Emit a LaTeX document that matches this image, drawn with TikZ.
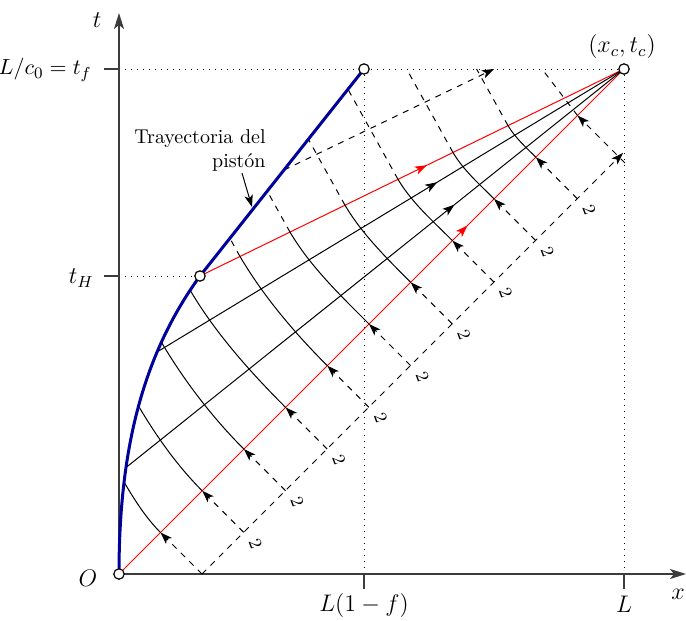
\documentclass[tikz,border=0pt]{standalone}
\usetikzlibrary{arrows.meta,calc,decorations.markings}
\definecolor{pistoncol}{RGB}{0,0,155}
\definecolor{axisgray}{RGB}{60,60,60}
\begin{document}
\begin{tikzpicture}[x=0.5pt,y=-0.5pt,
  >={Stealth[length=6pt,width=4.2pt,inset=1.5pt]},
  thinl/.style={line width=0.5pt},
  axisline/.style={line width=0.8pt,draw=axisgray,-{Stealth[length=8pt,width=5pt,inset=2pt]}},
  tickline/.style={line width=0.8pt,draw=axisgray},
  opendot/.style={circle,draw,fill=white,inner sep=0pt,minimum size=5.2pt,line width=0.6pt},
  dotline/.style={line width=0.5pt,dash pattern=on 0.5pt off 2.5pt},
  dsh/.style={line width=0.5pt,dash pattern=on 3pt off 3pt},
  midarrow/.style={postaction={decorate},decoration={markings,mark=at position #1 with {\arrow{>}}}},
  lbl/.style={inner sep=1pt,font=\fontsize{11.5}{14}\selectfont}
]
\useasboundingbox (0,0) rectangle (686,621);

% key points
\coordinate (O) at (119,574);
\coordinate (H) at (200,276);
\coordinate (F) at (364,69);
\coordinate (C) at (624,69);
\coordinate (Xend) at (686,574);
\coordinate (Tend) at (119,13);
\coordinate (TF) at (119,69);
\coordinate (TH) at (119,276);
\coordinate (TFt) at (104,69);
\coordinate (THt) at (104,276);
\coordinate (XL) at (624,574);
\coordinate (XLt) at (624,589);
\coordinate (Xf) at (364,574);
\coordinate (Xft) at (364,589);

% dotted guides
\draw[dotline] (TF) -- (C);
\draw[dotline] (TH) -- (H);
\draw[dotline] (F) -- (Xf);
\draw[dotline] (C) -- (XL);

% axes
\draw[axisline] (O) -- (Xend);
\draw[axisline] (O) -- (Tend);
\draw[tickline] (TFt) -- (TF);
\draw[tickline] (THt) -- (TH);
\draw[tickline] (Xf) -- (Xft);
\draw[tickline] (XL) -- (XLt);

% fan
\coordinate (B1) at (157,352);
\coordinate (B2) at (125.4,468);
\draw[red,thinl,midarrow=0.69] (O) -- (C);
\draw[red,thinl,midarrow=0.535] (H) -- (C);
\draw[thinl,midarrow=0.6] (B1) -- (C);
\draw[thinl,midarrow=0.66] (B2) -- (C);

% C- characteristics
\foreach \k/\ex/\ey in {0/124/482,1/138.5/406,2/161.3/342,3/190/290,4/240/256.5,5/290/232.1,6/345/205.2,7/398/179.3,8/453/152.5,9/508/125.6}{
  \pgfmathsetmacro\px{202+41.7*\k}
  \pgfmathsetmacro\py{574-41.7*\k}
  \pgfmathsetmacro\rx{\px-41.5}
  \pgfmathsetmacro\ry{\py-41.5}
  \pgfmathsetmacro\cl{veclen(\ex-\rx,\ey-\ry)}
  \pgfmathsetmacro\ca{0.233*\cl}
  \pgfmathsetmacro\cb{0.167*\cl}
  \pgfmathsetmacro\cc{1.7*\cb}
  \coordinate (P\k) at (\px,\py);
  \coordinate (R\k) at (\rx,\ry);
  \coordinate (E\k) at (\ex,\ey);
  \draw[dsh,->] (P\k) -- (R\k);
  \draw[thinl] (R\k) .. controls ($(R\k)+(-\ca,-\ca)$) and ($(E\k)+(\cb,\cc)$) .. (E\k);
}
\foreach \k/\qx/\qy in {4/229.9/238.3,5/267.2/191.1,6/308.4/139.3,7/348/89.3,8/406.6/69,9/476.6/69}{
  \coordinate (Q\k) at (\qx,\qy);
  \draw[dsh] (E\k) -- (Q\k);
}
\foreach \k in {1,...,9}{
  \node[rotate=-70,font=\small,inner sep=0pt] (g\k) at ($(P\k)+(12,11)$) {2};
}

% last reflected characteristic
\coordinate (Pend) at (623,153);
\coordinate (P10) at (625,163);
\coordinate (R10) at (577.5,115.5);
\coordinate (Q10) at (542,69);
\draw[dsh,->] (P0) -- (Pend);
\draw[dsh,->] (P10) -- (R10);
\draw[dsh] (R10) -- (Q10);

% C+ from the piston
\coordinate (S1) at (284,170);
\coordinate (S2) at (494,69);
\draw[dsh,->] (S1) -- (S2);

% piston trajectory
\draw[pistoncol,line width=1.5pt] (O) .. controls (119,454) and (141,357) .. (H) -- (F);

% label
\node[align=right,anchor=east,inner sep=1pt] (tray) at (268,150) {Trayectoria del\\pistón};
\coordinate (LA) at (242,173);
\coordinate (LB) at (252,207);
\draw[thinl,->] (LA) -- (LB);

% points
\node[opendot] (nO) at (O) {};
\node[opendot] (nH) at (H) {};
\node[opendot] (nF) at (F) {};
\node[opendot] (nC) at (C) {};

% axis labels
\node[lbl] (xc) at (622,47) {$(x_c,t_c)$};
\node[lbl] (tl) at (97,20) {$t$};
\node[lbl] (xl) at (678,594) {$x$};
\node[lbl] (ol) at (88,578) {$O$};
\node[inner sep=1pt,anchor=east,font=\fontsize{10.8}{13}\selectfont] (tfl) at (94,70) {$L/c_0 = t_f$};
\node[lbl,anchor=east] (thl) at (96,278) {$t_H$};
\node[lbl] (lfl) at (364,605) {$L(1-f)$};
\node[lbl] (ll) at (624,604) {$L$};
\end{tikzpicture}
\end{document}
